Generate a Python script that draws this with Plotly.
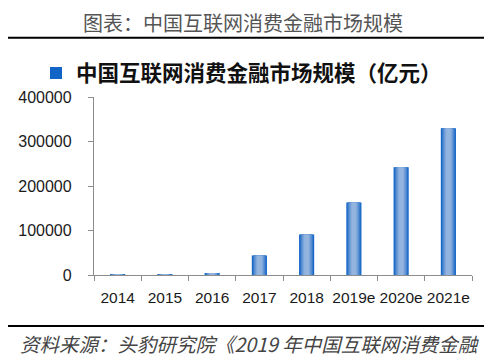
import plotly.graph_objects as go

categories = ["2014", "2015", "2016", "2017", "2018", "2019e", "2020e", "2021e"]
values = [180, 1100, 4400, 43800, 91000, 163000, 242000, 330000]
series_name = "中国互联网消费金融市场规模（亿元）"
y_ticks = [0, 100000, 200000, 300000, 400000]

fig = go.Figure()

# simulate horizontal gradient with overlaid bars of decreasing width
layers = [
    (0.32, "#1264C6"),
    (0.28, "#2E76CB"),
    (0.24, "#4C87D0"),
    (0.20, "#6797D5"),
    (0.15, "#7FA7DA"),
    (0.10, "#93B4DF"),
]
for i, (w, c) in enumerate(layers):
    fig.add_trace(go.Bar(
        x=categories, y=values, width=w,
        marker=dict(color=c, line=dict(width=0)),
        name=series_name, showlegend=(i == 0), legendgroup="g",
        hoverinfo="skip" if i else None,
    ))

# page has an 8px body margin; work in page pixel coordinates
OFF = 8
FW, FH = 484, 350
PX0, PX1, PY0, PY1 = 94, 472, 97, 275  # plot area in page pixels
L = PX0 - OFF
T = PY0 - OFF
R = FW - (PX1 - OFF)
B = FH - (PY1 - OFF)

def px_x(p):
    return (p - PX0) / (PX1 - PX0)

def px_y(p):
    return (PY1 - p) / (PY1 - PY0)

fig.update_layout(
    width=FW, height=FH,
    margin=dict(l=L, r=R, t=T, b=B, autoexpand=False),
    paper_bgcolor="white", plot_bgcolor="white",
    barmode="overlay",
    title=dict(
        text="图表：中国互联网消费金融市场规模",
        xref="container", x=(243 - OFF) / FW, xanchor="center",
        yref="container", y=1 - (24 - OFF) / FH, yanchor="middle",
        font=dict(family="Noto Sans CJK SC", size=20, color="#555555"),
    ),
    legend=dict(
        orientation="h", x=px_x(36), xanchor="left",
        y=px_y(73), yanchor="middle",
        font=dict(family="Noto Sans CJK SC", size=21.5, color="#111111", weight="bold"),
        itemwidth=30, bgcolor="rgba(0,0,0,0)",
    ),
    xaxis=dict(
        type="category", tickson="boundaries", tickangle=0, automargin=False,
        showline=True, linecolor="#8c8c8c", linewidth=1.3,
        ticks="outside", ticklen=5, tickcolor="#8c8c8c",
        tickfont=dict(family="Liberation Sans", size=15.5, color="#1a1a1a"),
        showgrid=False, range=[-0.5, 7.5], ticklabelstandoff=8,
    ),
    yaxis=dict(
        range=[0, 400000], tickvals=y_ticks, automargin=False,
        tickformat="d",
        showline=True, linecolor="#8c8c8c", linewidth=1.3,
        ticks="outside", ticklen=5, tickcolor="#8c8c8c",
        tickfont=dict(family="Liberation Sans", size=16, color="#1a1a1a"),
        showgrid=False, zeroline=False, ticklabelstandoff=13,
    ),
    shapes=[
        dict(type="line", xref="paper", yref="paper",
             x0=px_x(7), x1=px_x(489), y0=px_y(37.7), y1=px_y(37.7),
             line=dict(color="black", width=2)),
        dict(type="line", xref="paper", yref="paper",
             x0=px_x(7), x1=px_x(489), y0=px_y(326), y1=px_y(326),
             line=dict(color="black", width=2)),
    ],
    annotations=[
        dict(text="资料来源：头豹研究院《2019 年中国互联网消费金融",
             xref="paper", yref="paper", x=px_x(18), y=px_y(343),
             xanchor="left", yanchor="middle", showarrow=False,
             font=dict(family="Noto Sans CJK SC", size=19.5, color="#444444", style="italic")),
    ],
)

fig.write_html("out.html")
